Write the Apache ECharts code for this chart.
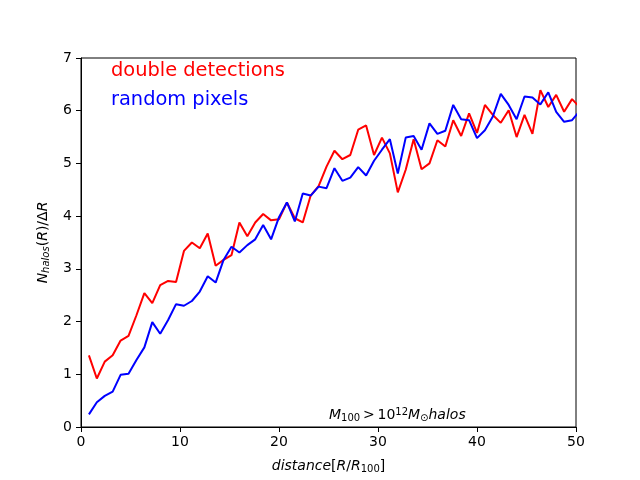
<!DOCTYPE html>
<html lang="en">
<head>
  <meta charset="UTF-8">
  <title>Halos per distance</title>
  <script src="https://cdn.jsdelivr.net/npm/echarts@6/dist/echarts.min.js"></script>
  <style>
    html, body { margin: 0; padding: 0; background: #fff; }
    #chart { width: 640px; height: 480px; }
  </style>
</head>
<body>
  <div id="chart"></div>
  <script type="text/javascript">
    // distance bins (R/R100), last one sits past the axis end and gets clipped
    const distance = [0.8, 1.6, 2.4, 3.2, 4.0, 4.8, 5.6, 6.4, 7.2, 8.0, 8.8, 9.6, 10.4, 11.2, 12.0, 12.8,
      13.6, 14.4, 15.2, 16.0, 16.8, 17.6, 18.4, 19.2, 20.0, 20.8, 21.6, 22.4, 23.2, 24.0, 24.8, 25.6,
      26.4, 27.2, 28.0, 28.8, 29.6, 30.4, 31.2, 32.0, 32.8, 33.6, 34.4, 35.2, 36.0, 36.8, 37.6, 38.4,
      39.2, 40.0, 40.8, 41.6, 42.4, 43.2, 44.0, 44.8, 45.6, 46.4, 47.2, 48.0, 48.8, 49.6, 50.4];

    const doubleDetections = [1.36, 0.92, 1.24, 1.36, 1.64, 1.73, 2.12, 2.54, 2.35, 2.69, 2.77, 2.75,
      3.34, 3.50, 3.39, 3.67, 3.06, 3.17, 3.26, 3.88, 3.62, 3.88, 4.04, 3.92, 3.94, 4.26, 3.96, 3.88,
      4.39, 4.57, 4.94, 5.24, 5.08, 5.16, 5.64, 5.72, 5.16, 5.49, 5.19, 4.45, 4.88, 5.46, 4.89, 5.00,
      5.44, 5.32, 5.82, 5.52, 5.95, 5.58, 6.11, 5.92, 5.77, 6.01, 5.50, 5.92, 5.56, 6.39, 6.07, 6.30,
      5.98, 6.22, 6.06];

    const randomPixels = [0.24, 0.47, 0.59, 0.67, 0.99, 1.01, 1.27, 1.51, 1.99, 1.77, 2.03, 2.33,
      2.30, 2.39, 2.57, 2.86, 2.74, 3.17, 3.42, 3.31, 3.45, 3.56, 3.83, 3.56, 3.98, 4.26, 3.90, 4.43,
      4.39, 4.56, 4.53, 4.91, 4.67, 4.73, 4.93, 4.77, 5.05, 5.26, 5.46, 4.81, 5.49, 5.52, 5.26, 5.76,
      5.56, 5.62, 6.11, 5.84, 5.82, 5.48, 5.63, 5.89, 6.32, 6.11, 5.84, 6.27, 6.25, 6.12, 6.35, 5.98,
      5.79, 5.82, 6.00];

    const xRange = [0, 50];
    const yRange = [0, 7];

    const font = 'DejaVu Sans';
    const mathRich = {
      i: { fontFamily: font, fontStyle: 'italic', fontSize: 14, color: '#000' },
      n: { fontFamily: font, fontSize: 14, color: '#000' },
      sub: { fontFamily: font, fontSize: 10, color: '#000', verticalAlign: 'bottom', padding: [6, 0, 0, 0] },
      subi: { fontFamily: font, fontStyle: 'italic', fontSize: 10, color: '#000', verticalAlign: 'bottom', padding: [6, 0, 0, 0] },
      sup: { fontFamily: font, fontSize: 10, color: '#000', verticalAlign: 'top', padding: [0, 0, 6, 0] }
    };

    const myChart = echarts.init(document.getElementById('chart'));

    const option = {
      animation: false,
      grid: {
        left: 81, right: 64, top: 58, bottom: 53,
        show: true, borderColor: '#000', borderWidth: 1
      },
      xAxis: {
        type: 'value',
        min: xRange[0], max: xRange[1], interval: 10,
        splitLine: { show: false },
        axisLine: { show: true, onZero: false, lineStyle: { color: '#000', width: 1 } },
        axisTick: { show: true, inside: false, length: 5, lineStyle: { color: '#000' } },
        axisLabel: { fontFamily: font, fontSize: 14, color: '#000', margin: 8 },
        name: '{i|distance}{n|[}{i|R}{n|/}{i|R}{sub|100}{n|]}',
        nameLocation: 'middle',
        nameGap: 31,
        nameTextStyle: { rich: mathRich }
      },
      yAxis: {
        type: 'value',
        min: yRange[0], max: yRange[1], interval: 1,
        splitLine: { show: false },
        axisLine: { show: true, onZero: false, lineStyle: { color: '#000', width: 1 } },
        axisTick: { show: true, inside: false, length: 5, lineStyle: { color: '#000' } },
        axisLabel: { fontFamily: font, fontSize: 14, color: '#000', margin: 9 },
        name: '{i|N}{subi|halos}{n|(}{i|R}{n|)/Δ}{i|R}',
        nameLocation: 'middle',
        nameRotate: 90,
        nameGap: 30,
        nameTextStyle: { rich: mathRich }
      },
      series: [
        {
          name: 'double detections',
          type: 'line',
          data: distance.map((d, i) => [d, doubleDetections[i]]),
          showSymbol: false,
          clip: true,
          lineStyle: { color: '#ff0000', width: 2 },
          itemStyle: { color: '#ff0000' }
        },
        {
          name: 'random pixels',
          type: 'line',
          data: distance.map((d, i) => [d, randomPixels[i]]),
          showSymbol: false,
          clip: true,
          lineStyle: { color: '#0000ff', width: 2 },
          itemStyle: { color: '#0000ff' }
        }
      ],
      graphic: [
        {
          type: 'text', left: 111, top: 61,
          style: { text: 'double detections', fontFamily: font, fontSize: 19.4, fill: '#ff0000' }
        },
        {
          type: 'text', left: 111, top: 90,
          style: { text: 'random pixels', fontFamily: font, fontSize: 19.4, fill: '#0000ff' }
        },
        {
          type: 'text', left: 329, top: 407,
          style: {
            text: '{i|M}{sub|100}{n|\u2009>\u200910}{sup|12}{i|M}{sub|⊙}{i|halos}',
            rich: mathRich
          }
        }
      ]
    };
    myChart.setOption(option);
  </script>
</body>
</html>
